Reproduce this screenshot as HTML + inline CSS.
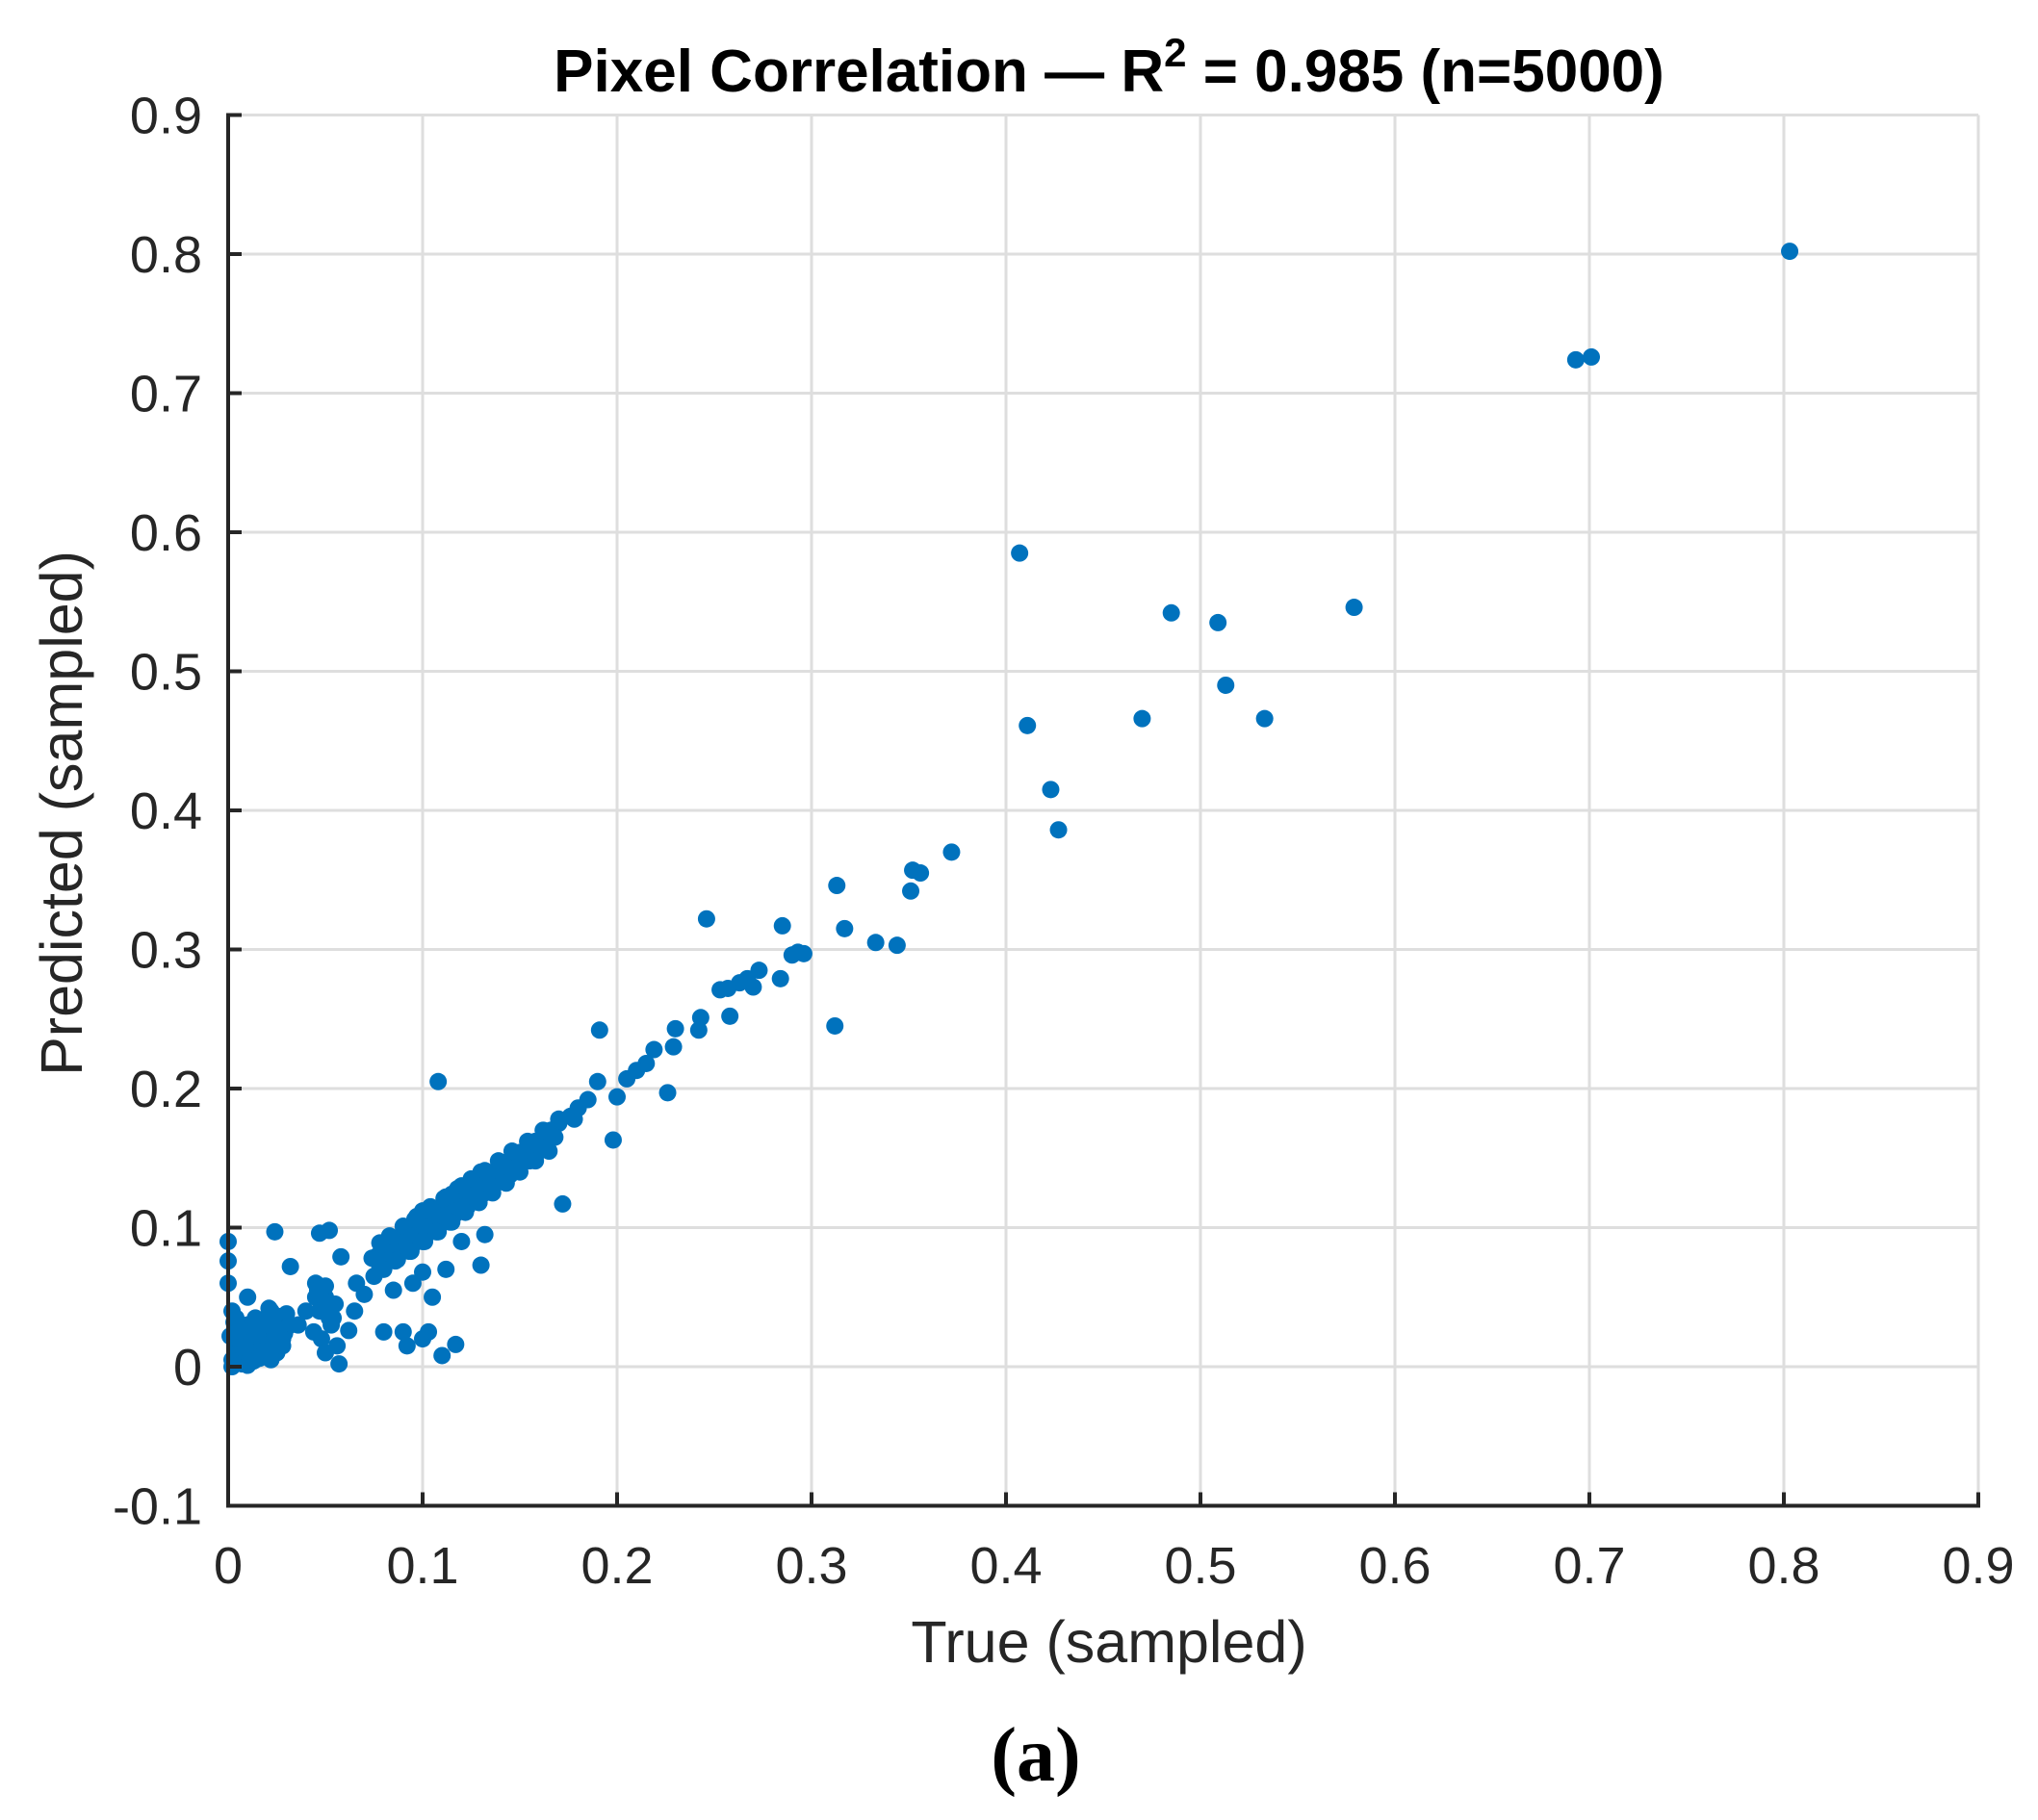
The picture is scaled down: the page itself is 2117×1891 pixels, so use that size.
<!DOCTYPE html>
<html><head><meta charset="utf-8"><style>
html,body{margin:0;padding:0;background:#fff;}
svg{display:block;}
</style></head><body>
<svg id="chart" width="2117" height="1891" xmlns="http://www.w3.org/2000/svg" font-family="Liberation Sans, sans-serif">
<rect width="2117" height="1891" fill="#fff"/>
<g id="grid"></g>
<g id="points"></g>
<g id="axes"></g>
<text x="1152" y="95" text-anchor="middle" font-weight="bold" font-size="62" fill="#000">Pixel Correlation — R<tspan dy="-26" font-size="42">2</tspan><tspan dy="26"> = 0.985 (n=5000)</tspan></text>
<text x="1152" y="1727" text-anchor="middle" font-size="61" fill="#262626">True (sampled)</text>
<text transform="translate(85,845) rotate(-90)" text-anchor="middle" font-size="61" fill="#262626">Predicted (sampled)</text>
<text x="1076" y="1850" text-anchor="middle" font-family="Liberation Serif, serif" font-weight="bold" font-size="80" fill="#000">(a)</text>
</svg>
<script>
const xTicks = [0,0.1,0.2,0.3,0.4,0.5,0.6,0.7,0.8,0.9];
const xTickLabels = ["0","0.1","0.2","0.3","0.4","0.5","0.6","0.7","0.8","0.9"];
const yTicks = [-0.1,0,0.1,0.2,0.3,0.4,0.5,0.6,0.7,0.8,0.9];
const yTickLabels = ["-0.1","0","0.1","0.2","0.3","0.4","0.5","0.6","0.7","0.8","0.9"];
const trueVals = [
0.803,0.693,0.701,0.407,0.485,0.509,0.579,0.513,0.533,0.470,0.411,0.423,0.427,0.372,0.352,0.356,0.351,0.313,0.246,0.285,0.317,0.333,0.344,0.290,0.296,0.293,0.284,0.273,0.267,0.263,0.257,0.253,0.270,0.258,0.243,0.242,0.230,0.229,0.219,0.215,0.210,0.205,0.226,0.312,0.191,0.200,0.198,0.108,0.172,
0.185,0.180,0.176,0.170,0.166,0.162,0.158,0.155,0.150,0.147,0.143,0.140,0.137,0.134,0.131,0.128,0.125,0.122,0.119,0.116,0.113,0.110,0.107,0.104,0.101,0.098,0.095,0.092,0.089,0.086,0.083,0.080,0.077,0.074,
0.190,0.178,0.168,0.160,0.152,0.145,0.138,0.132,0.126,0.120,0.114,0.108,0.102,0.096,0.090,0.084,0.078,0.155,0.148,0.142,0.135,0.129,0.123,0.117,0.111,0.105,0.099,0.093,0.087,0.081,
0.160,0.150,0.140,0.130,0.120,0.110,0.100,0.092,0.085,0.145,0.135,0.125,0.115,0.105,0.095,0.130,0.115,0.100,
0.165,0.158,0.150,0.143,0.136,0.129,0.122,0.115,0.108,0.101,0.094,0.087,0.080,
0.170,0.162,0.154,0.146,0.139,0.132,0.125,0.118,0.111,0.104,0.097,0.090,0.083,0.078,
0.128,0.121,0.114,0.107,0.100,0.093,0.086,0.120,0.112,0.104,0.096,
0.000,0.000,0.000,0.024,0.047,0.052,0.032,0.058,0.010,0.050,0.045,0.056,0.057,0.022,0.040,0.065,0.062,0.080,0.090,0.092,0.100,0.103,0.105,0.110,0.117,0.075,0.085,0.095,0.100,0.120,0.132,0.130,0.112,0.066,0.070,0.054,0.048,0.036,
0.002,0.004,0.006,0.008,0.010,0.012,0.014,0.016,0.018,0.020,0.022,0.024,0.026,0.028,0.030,0.002,0.005,0.008,0.011,0.014,0.017,0.020,0.023,0.026,0.029,0.003,0.007,0.012,0.016,0.021,0.025,0.030,0.001,0.004,0.009,0.013,0.018,0.022,0.027,0.032,0.002,0.006,0.010,0.015,0.019,0.024,0.028,
0.045,0.047,0.050,0.053,0.055,0.048,0.052,0.044,0.046,0.050
];
const predVals = [
0.802,0.724,0.726,0.585,0.542,0.535,0.546,0.490,0.466,0.466,0.461,0.415,0.386,0.370,0.357,0.355,0.342,0.346,0.322,0.317,0.315,0.305,0.303,0.296,0.297,0.298,0.279,0.285,0.279,0.276,0.272,0.271,0.273,0.252,0.251,0.242,0.243,0.230,0.228,0.218,0.213,0.207,0.197,0.245,0.242,0.194,0.163,0.205,0.117,
0.192,0.186,0.180,0.175,0.170,0.165,0.162,0.158,0.154,0.150,0.147,0.144,0.140,0.137,0.134,0.131,0.128,0.124,0.121,0.118,0.115,0.112,0.109,0.106,0.103,0.100,0.097,0.094,0.091,0.088,0.085,0.083,0.080,0.078,
0.205,0.178,0.165,0.155,0.148,0.138,0.132,0.125,0.119,0.113,0.107,0.100,0.095,0.089,0.083,0.078,0.072,0.148,0.142,0.134,0.128,0.122,0.115,0.110,0.104,0.098,0.092,0.087,0.081,0.076,
0.158,0.146,0.137,0.126,0.115,0.105,0.096,0.088,0.082,0.142,0.130,0.121,0.110,0.101,0.091,0.140,0.124,0.112,
0.155,0.148,0.140,0.132,0.125,0.118,0.111,0.104,0.097,0.090,0.083,0.077,0.070,
0.178,0.170,0.162,0.155,0.148,0.141,0.135,0.128,0.121,0.115,0.108,0.101,0.094,0.089,
0.120,0.112,0.104,0.097,0.090,0.083,0.076,0.130,0.122,0.113,0.106,
0.090,0.076,0.060,0.097,0.096,0.098,0.072,0.079,0.050,0.050,0.060,0.015,0.002,0.005,0.040,0.040,0.026,0.025,0.025,0.015,0.020,0.025,0.050,0.008,0.016,0.065,0.055,0.060,0.068,0.090,0.095,0.073,0.070,0.060,0.052,0.035,0.045,0.030,
0.005,0.015,0.025,0.010,0.030,0.020,0.035,0.012,0.028,0.018,0.040,0.022,0.032,0.015,0.038,0.000,0.020,0.003,0.012,0.026,0.008,0.030,0.016,0.036,0.024,0.032,0.002,0.018,0.006,0.042,0.010,0.028,0.022,0.035,0.014,0.004,0.033,0.007,0.019,0.030,0.040,0.027,0.001,0.023,0.011,0.037,0.020,
0.050,0.040,0.058,0.030,0.045,0.020,0.035,0.025,0.055,0.010
];
const NS = "http://www.w3.org/2000/svg";
const X0 = 237, XS = 2020, Y0 = 1420, YS = 1445;
function xPos(v){ return X0 + v*XS; }
function yPos(v){ return Y0 - v*YS; }
const grid = document.getElementById('grid');
const axes = document.getElementById('axes');
const pts = document.getElementById('points');
const xL = xPos(0), xR = xPos(0.9), yT = yPos(0.9), yB = yPos(-0.1);
function line(parent, x1, y1, x2, y2, stroke, w){
  const l = document.createElementNS(NS,'line');
  l.setAttribute('x1',x1); l.setAttribute('y1',y1); l.setAttribute('x2',x2); l.setAttribute('y2',y2);
  l.setAttribute('stroke',stroke); l.setAttribute('stroke-width',w);
  parent.appendChild(l);
  return l;
}
xTicks.forEach((t,i)=>{
  const g = line(grid, xPos(t), yT, xPos(t), yB, '#dedede', 3);
  
  
  const tk = line(axes, xPos(t), yB, xPos(t), yB-14, '#262626', 4);
  
  
  const tx = document.createElementNS(NS,'text');
  tx.setAttribute('x', xPos(t)); tx.setAttribute('y', 1645);
  tx.setAttribute('text-anchor','middle'); tx.setAttribute('font-size','54'); tx.setAttribute('fill','#262626');
  tx.textContent = xTickLabels[i];
  
  
  axes.appendChild(tx);
});
yTicks.forEach((t,i)=>{
  const g = line(grid, xL, yPos(t), xR, yPos(t), '#dedede', 3);
  
  
  const tk = line(axes, xL, yPos(t), xL+14, yPos(t), '#262626', 4);
  
  
  const tx = document.createElementNS(NS,'text');
  tx.setAttribute('x', 210); tx.setAttribute('y', yPos(t)+19);
  tx.setAttribute('text-anchor','end'); tx.setAttribute('font-size','54'); tx.setAttribute('fill','#262626');
  tx.textContent = yTickLabels[i];
  
  
  axes.appendChild(tx);
});
const ax1 = line(axes, xL, yT-2, xL, yB+2, '#262626', 4);


const ax2 = line(axes, xL-2, yB, xR+2, yB, '#262626', 4);


trueVals.forEach((v,i)=>{
  const c = document.createElementNS(NS,'circle');
  c.setAttribute('cx', xPos(v)); c.setAttribute('cy', yPos(predVals[i]));
  c.setAttribute('r', 9); c.setAttribute('fill', '#0072bd');
  
  
  pts.appendChild(c);
});
</script>
</body></html>
